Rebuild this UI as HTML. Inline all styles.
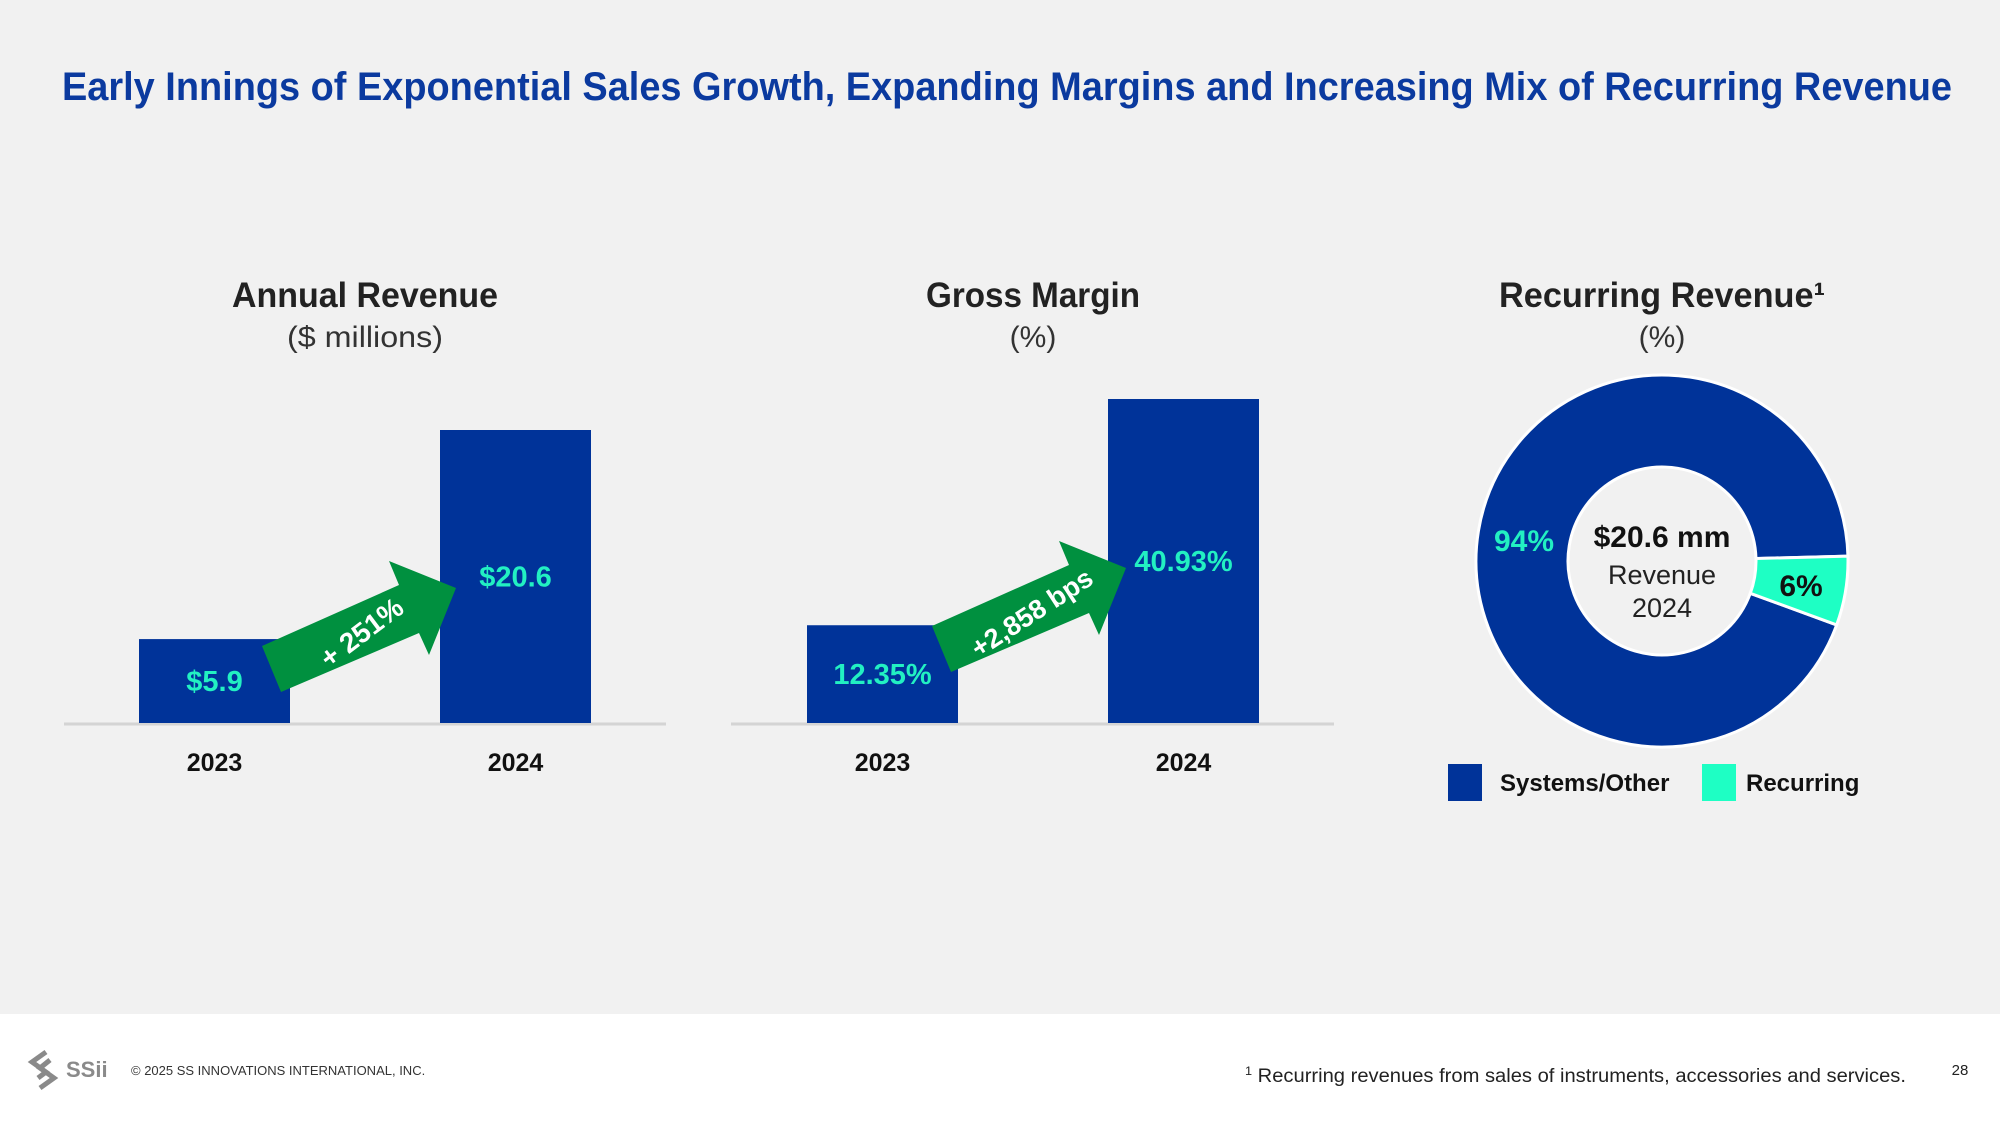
<!DOCTYPE html>
<html><head><meta charset="utf-8"><style>
html,body{margin:0;padding:0;background:#f1f1f1;}
svg{display:block;font-family:"Liberation Sans",sans-serif;}
</style></head><body>
<svg id="s" width="2000" height="1125" viewBox="0 0 2000 1125">
<rect x="0" y="0" width="2000" height="1014" fill="#f1f1f1"/>
<rect x="0" y="1014" width="2000" height="111" fill="#ffffff"/>
<text x="62" y="100" font-size="40" font-weight="bold" fill="#0b3a9f" textLength="1890" lengthAdjust="spacingAndGlyphs">Early Innings of Exponential Sales Growth, Expanding Margins and Increasing Mix of Recurring Revenue</text>

<text x="365" y="307" font-size="35" font-weight="bold" fill="#222" text-anchor="middle" textLength="266" lengthAdjust="spacingAndGlyphs">Annual Revenue</text>
<text x="365" y="347" font-size="30" fill="#333" text-anchor="middle" textLength="156" lengthAdjust="spacingAndGlyphs">($ millions)</text>
<text x="1033" y="307" font-size="35" font-weight="bold" fill="#222" text-anchor="middle" textLength="214" lengthAdjust="spacingAndGlyphs">Gross Margin</text>
<text x="1033" y="347" font-size="30" fill="#333" text-anchor="middle">(%)</text>
<text x="1662" y="307" font-size="35" font-weight="bold" fill="#222" text-anchor="middle" textLength="326" lengthAdjust="spacingAndGlyphs">Recurring Revenue¹</text>
<text x="1662" y="347" font-size="30" fill="#333" text-anchor="middle">(%)</text>

<g id="bars1"></g>
<g id="bars2"></g>

<g>
<polygon points="262,646 399,585 389,561 456,588 429,655 419,633 281,692" fill="#00903f"/>
<text x="362" y="642" font-size="28" font-weight="bold" fill="#fff" text-anchor="middle" transform="rotate(-37 362 633)">+ 251%</text>
</g>
<g transform="translate(670,-20)">
<polygon points="262,646 399,585 389,561 456,588 429,655 419,633 281,692" fill="#00903f"/>
<text x="362" y="642" font-size="27" font-weight="bold" fill="#fff" text-anchor="middle" transform="rotate(-33 362 633)">+2,858 bps</text>
</g>

<g id="donut"></g>
<text x="1662" y="547" font-size="30" font-weight="bold" fill="#111" text-anchor="middle">$20.6 mm</text>
<text x="1662" y="584" font-size="27" fill="#222" text-anchor="middle">Revenue</text>
<text x="1662" y="617" font-size="27" fill="#222" text-anchor="middle">2024</text>

<rect x="1448" y="764" width="34" height="37" fill="#003399"/>
<text x="1500" y="791" font-size="24" font-weight="bold" fill="#111">Systems/Other</text>
<rect x="1702" y="764" width="34" height="37" fill="#1effc4"/>
<text x="1746" y="791" font-size="24" font-weight="bold" fill="#111">Recurring</text>

<g>
<path d="M46 1052 L32 1062 L46 1072 L38 1078 M50 1060 L40 1068 L54 1078 L40 1088" stroke="#8a8a8a" stroke-width="5" fill="none"/>
<text x="66" y="1077" font-size="22" font-weight="bold" fill="#8a8a8a">SSii</text>
</g>
<text x="131" y="1075" font-size="13" fill="#333">© 2025 SS INNOVATIONS INTERNATIONAL, INC.</text>
<text x="1245" y="1082" font-size="19" fill="#222" textLength="661" lengthAdjust="spacingAndGlyphs"><tspan font-size="12" dy="-7">1</tspan><tspan dy="7"> Recurring revenues from sales of instruments, accessories and services.</tspan></text>
<text x="1960" y="1075" font-size="15" fill="#222" text-anchor="middle">28</text>
</svg>
<script>
const years = ["2023","2024"];
const revenueValues = [5.9, 20.6];
const revenueLabels = ["$5.9","$20.6"];
const marginValues = [12.35, 40.93];
const marginLabels = ["12.35%","40.93%"];
const donutCategories = ["Systems/Other","Recurring"];
const donutValues = [94, 6];
const donutLabels = ["94%","6%"];

const NS = "http://www.w3.org/2000/svg";
function mk(tag, attrs, parent){const e=document.createElementNS(NS,tag);for(const k in attrs)e.setAttribute(k,attrs[k]);parent.appendChild(e);return e;}

function barChart(gid, axisX0, axisX1, barXs, vals, labels, pxPerUnit, nameP){
  const g=document.getElementById(gid);
  const base=723;
  const y=v=>base-v*pxPerUnit;
  const ax=mk("line",{x1:axisX0,x2:axisX1,y1:base+1,y2:base+1,stroke:"#d4d4d4","stroke-width":3},g);
  
  
  vals.forEach((v,i)=>{
    const r=mk("rect",{x:barXs[i],y:y(v),width:151,height:base-y(v),fill:"#003399"},g);
    
    
    const t=mk("text",{x:barXs[i]+75.5,y:y(v/2)+10,"font-size":29,"font-weight":"bold",fill:"#22f0c2","text-anchor":"middle"},g);
    t.textContent=labels[i];
    
    
    const c=mk("text",{x:barXs[i]+75.5,y:771,"font-size":25,"font-weight":"bold",fill:"#111","text-anchor":"middle"},g);
    c.textContent=years[i];
    
    
  });
}
barChart("bars1",64,666,[139,440],revenueValues,revenueLabels,293/20.6,"revenue");
barChart("bars2",731,1334,[807,1108],marginValues,marginLabels,324/40.93,"margin");

(function(){
  const g=document.getElementById("donut");
  const cx=1662,cy=561,R=186,r=94;
  const total=donutValues.reduce((a,b)=>a+b,0);
  const colors=["#003399","#1effc4"];
  // recurring slice starts just above 3 o'clock, going clockwise
  let start=-1.5 - 360*donutValues[0]/total; // degrees, systems slice first
  const pt=(rad,a)=>[cx+rad*Math.cos(a*Math.PI/180),cy+rad*Math.sin(a*Math.PI/180)];
  donutValues.forEach((v,i)=>{
    const sweep=360*v/total, end=start+sweep, large=sweep>180?1:0;
    const p1=pt(R,start),p2=pt(R,end),p3=pt(r,end),p4=pt(r,start);
    const p=mk("path",{d:`M${p1} A${R},${R} 0 ${large} 1 ${p2} L${p3} A${r},${r} 0 ${large} 0 ${p4} Z`,fill:colors[i],stroke:"#fff","stroke-width":3},g);
    
    
    start=end;
  });
  const l1=mk("text",{x:1524,y:551,"font-size":30,"font-weight":"bold",fill:"#22f0c2","text-anchor":"middle"},g);
  l1.textContent=donutLabels[0];
  
  
  const l2=mk("text",{x:1801,y:596,"font-size":30,"font-weight":"bold",fill:"#111","text-anchor":"middle"},g);
  l2.textContent=donutLabels[1];
  
  
})();
</script>
</body></html>
